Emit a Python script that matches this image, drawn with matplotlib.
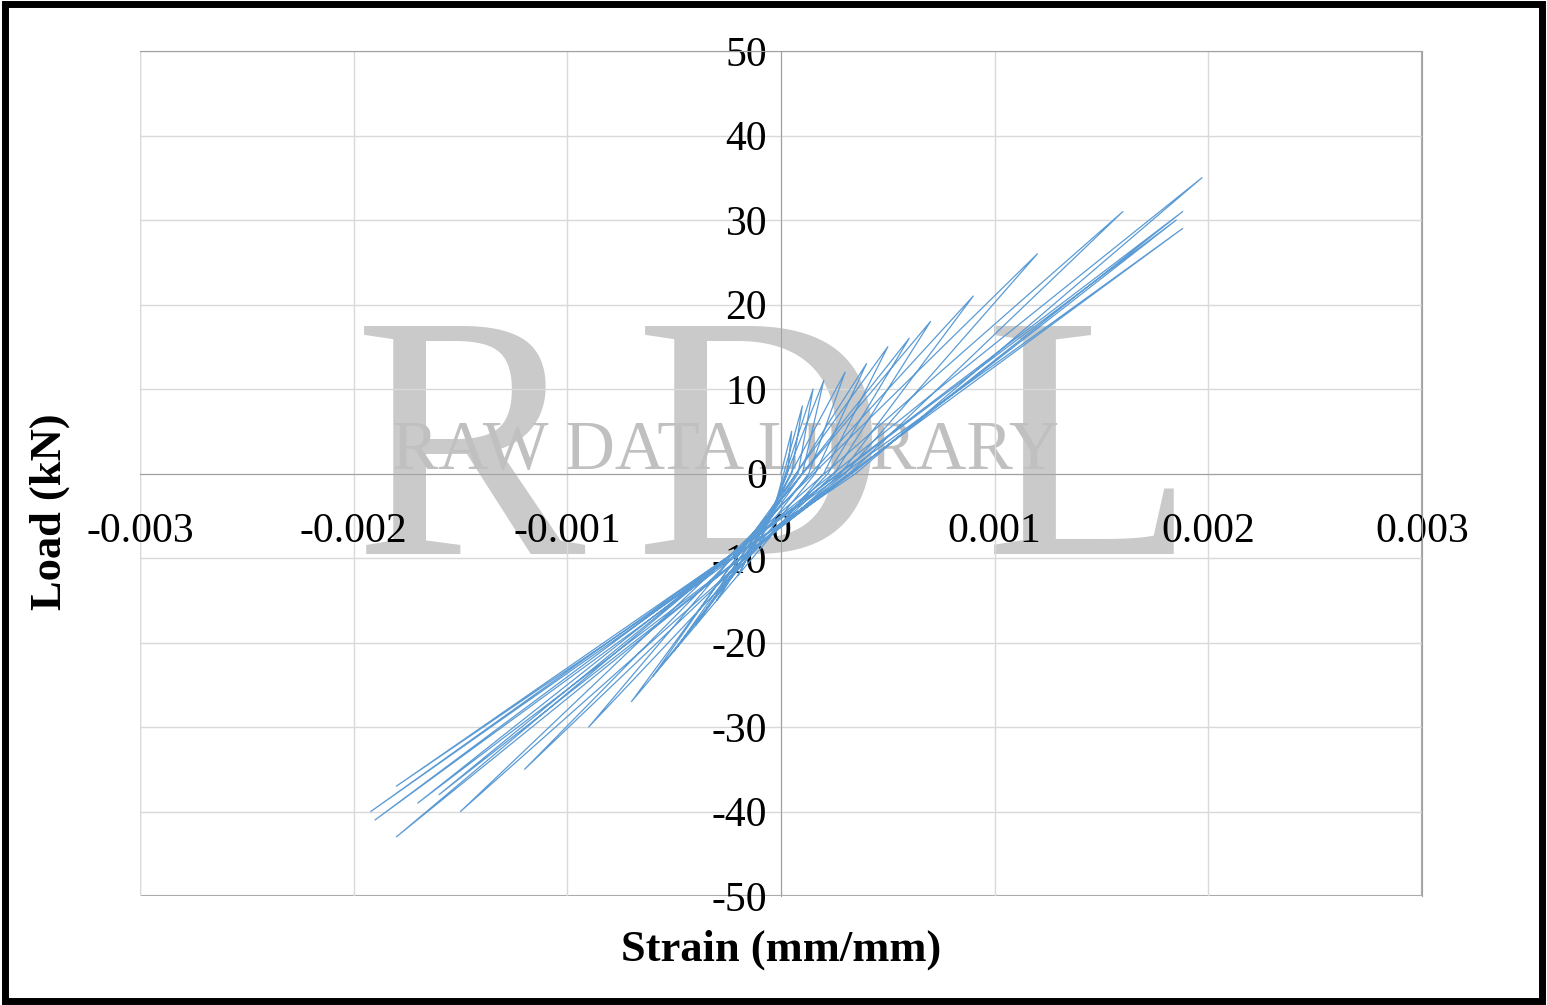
import matplotlib
matplotlib.use("Agg")
import matplotlib.pyplot as plt

# cycle turning points (strain mm/mm, load kN)
pos_x = [0.00005, 0.0001, 0.00015, 0.0002, 0.0003, 0.0004, 0.0005, 0.0006, 0.0007, 0.0009, 0.0012, 0.0016, 0.00185, 0.00197, 0.00188, 0.00188]
pos_y = [5, 8, 10, 11, 12, 13, 15, 16, 18, 21, 26, 31, 30, 35, 31, 29]
unl_x = [0.00003, 0.00005, 0.00008, 0.0001, 0.00013, 0.00016, 0.0002, 0.00022, 0.00025, 0.00028, 0.0003, 0.00032, 0.00033, 0.00035, 0.00033, 0.00032]
unl_y = [0, 0, 0, 0, 0, 0, 0, 0, 0, 0, 0, 0, 0, 0, 0, 0]
neg_x = [-0.0001, -0.0002, -0.0003, -0.0004, -0.0005, -0.0006, -0.0007, -0.0009, -0.0012, -0.0015, -0.0018, -0.0019, -0.00192, -0.0018, -0.0017, -0.0016]
neg_y = [-8, -12, -15, -18, -21, -24, -27, -30, -35, -40, -43, -41, -40, -37, -39, -38]
rel_x = [-0.00002, -0.00003, -0.00005, -0.00006, -0.00008, -0.0001, -0.00012, -0.00013, -0.00015, -0.00017, -0.0002, -0.0002, -0.0002, -0.0002, -0.0002, -0.0002]
rel_y = [-3, -4, -5, -5, -6, -6, -7, -7, -8, -8, -9, -9, -9, -9, -9, -9]

xs, ys = [0.0], [0.0]
for i in range(len(pos_x)):
    xs += [pos_x[i], unl_x[i], neg_x[i], rel_x[i]]
    ys += [pos_y[i], unl_y[i], neg_y[i], rel_y[i]]

plt.rcParams['font.family'] = ['Liberation Serif']
plt.rcParams['axes.unicode_minus'] = False
fig = plt.figure(figsize=(15.47, 10.05), dpi=100)
fig.patches.append(plt.Rectangle((0.003, 0.004), 0.994, 0.992, transform=fig.transFigure,
                                 fill=False, lw=5, ec='black'))
ax = fig.add_axes([140/1547, 1-896/1005, (1422-140)/1547, (896-51)/1005])
ax.set_xlim(-0.003, 0.003)
ax.set_ylim(-50, 50)
ax.set_xticks([-0.003, -0.002, -0.001, 0, 0.001, 0.002, 0.003])
ax.set_xticklabels(['-0.003', '-0.002', '-0.001', '0', '0.001', '0.002', '0.003'])
ax.set_yticks(range(-50, 51, 10))
ax.grid(True, color='#d9d9d9', lw=1)
ax.spines['left'].set_position(('data', 0))
ax.spines['bottom'].set_position(('data', 0))
for s in ['left', 'bottom', 'top', 'right']:
    ax.spines[s].set_color('#a0a0a0')
ax.tick_params(length=0, labelsize=30, pad=10)
ax.tick_params(axis='x', pad=28)
ax.add_patch(plt.Rectangle((0, 0), 1, 1, transform=ax.transAxes, fill=False, ec='#a0a0a0', lw=1.5))

for ch, px in [('R', 470), ('D', 760), ('L', 1090)]:
    ax.text(px/1547, 1-470/1005, ch, transform=fig.transFigure, fontsize=250, color='#cacaca',
            ha='center', va='center', zorder=0.5, clip_on=False)
ax.text(725/1547, 1-452/1005, 'RAW DATA LIBRARY', transform=fig.transFigure, fontsize=50,
        color='#c0c0c0', ha='center', va='center', zorder=0.6, clip_on=False)

ax.plot(xs, ys, color='#5b9bd5', lw=0.9, zorder=3)

fig.text(781/1547, 1-950/1005, 'Strain (mm/mm)', fontsize=32, fontweight='bold', ha='center', va='center')
fig.text(50/1547, 1-512/1005, 'Load (kN)', fontsize=32, fontweight='bold', ha='center', va='center', rotation=90)
fig.savefig('out.png', dpi=100)
